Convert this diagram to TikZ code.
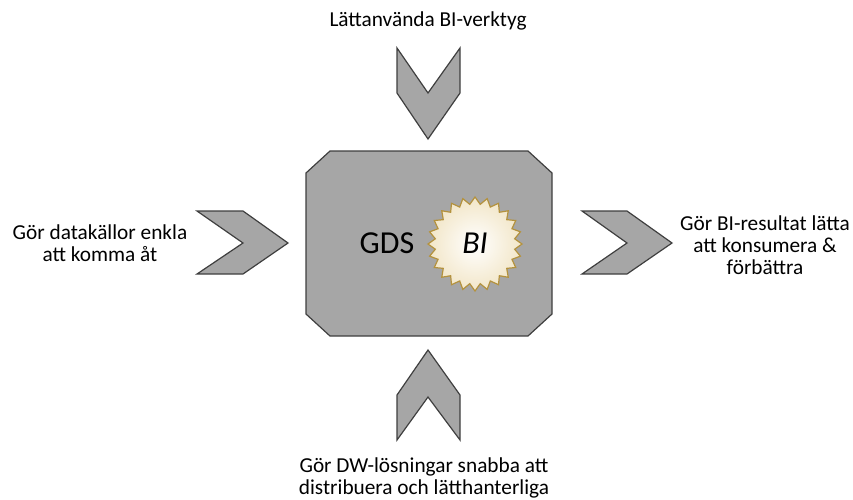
\documentclass[tikz,border=0pt]{standalone}
\usepackage{fontspec}
\setmainfont{Carlito}
\definecolor{boxgray}{HTML}{A6A6A6}
\definecolor{edgegray}{HTML}{3F3F3F}
\definecolor{starrim}{RGB}{180,146,62}
\definecolor{starcream}{RGB}{242,230,200}
\begin{document}
\begin{tikzpicture}[x=1pt,y=-1pt,
  shapeline/.style={fill=boxgray,draw=edgegray,line width=1.2pt,line join=miter},
  lbl/.style={align=center,font=\fontsize{21.3}{22}\selectfont,inner sep=0pt}]
\path[use as bounding box] (0,0) rectangle (853,499);
% main chamfered box
\draw[shapeline] (330,151) -- (528,151) -- (552,173) -- (552,314) -- (528,336)
  -- (330,336) -- (306,314) -- (306,173) -- cycle;
\coordinate (gds) at (429,243.5);
% chevrons
\draw[shapeline] (397,48) -- (428,93) -- (460,48) -- (460,93) -- (428,139) -- (397,93) -- cycle;
\draw[shapeline] (428,350) -- (460,395) -- (460,440) -- (428,397) -- (397,440) -- (397,395) -- cycle;
\draw[shapeline] (197,211) -- (243,211) -- (288,243) -- (243,274) -- (197,274) -- (243,243) -- cycle;
\draw[shapeline] (582,211) -- (627,211) -- (672,243) -- (627,274) -- (582,274) -- (627,243) -- cycle;
% starburst
\begin{scope}[shift={(475,244)}]
\draw[draw=starrim,line width=1.2pt,inner color=white,outer color=starcream,line join=miter]
  (0:47) \foreach \i in {0,...,23} { -- ({\i*15+7.5}:40) -- ({\i*15+15}:47) } -- cycle;
\end{scope}
\node[font=\fontsize{32}{34}\selectfont,inner sep=0pt] (gdstext) at (387,243) {GDS};
\node[font=\fontsize{32}{34}\selectfont\itshape,inner sep=0pt] (bi) at (475,243) {BI};
% labels
\node[lbl] (top) at (428,21) {Lättanvända BI-verktyg};
\node[lbl] (left) at (100,243) {Gör datakällor enkla\\att komma åt};
\node[lbl] (right) at (765,245) {Gör BI-resultat lätta\\att konsumera \&\\förbättra};
\node[lbl] (bottom) at (424,478) {Gör DW-lösningar snabba att\\distribuera och lätthanterliga};
\end{tikzpicture}
\end{document}
